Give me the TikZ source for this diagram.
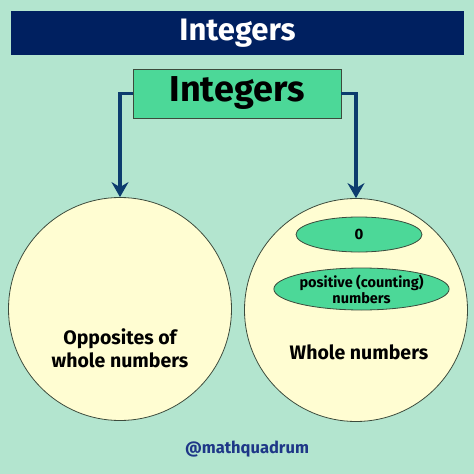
\documentclass[tikz,border=0pt]{standalone}
\usepackage{fontspec}
\setsansfont{Fira Sans}
\usetikzlibrary{positioning, shapes, arrows.meta}

\definecolor{mint}{RGB}{179,229,207}
\definecolor{navy}{RGB}{0,32,96}
\definecolor{linkblue}{RGB}{12,60,110}
\definecolor{leaf}{RGB}{76,216,152}
\definecolor{cream}{RGB}{255,253,210}
\definecolor{rim}{RGB}{60,75,60}
\definecolor{handleblue}{RGB}{30,55,135}

\begin{document}
\begin{tikzpicture}[x=1pt, y=-1pt, font=\sffamily\bfseries,
  link/.style={draw=linkblue, line width=3.8pt, -{Stealth[length=15pt, width=17pt, inset=5pt]}},
  setcircle/.style={circle, draw=rim, line width=0.8pt, fill=cream, minimum size=223pt, inner sep=0pt},
  member/.style={ellipse, draw=rim, line width=0.8pt, fill=leaf, inner sep=0pt, align=center}]

% Background and size
\useasboundingbox[fill=mint] (0, 0) rectangle (474, 474);

% Title bar
\node[fill=navy, text=white, minimum width=453pt, minimum height=44pt, font=\sffamily\bfseries\fontsize{31}{34}\selectfont] (title) at (237.5, 33) {Integers};

% Top box
\node[fill=leaf, draw=rim, line width=0.8pt, minimum width=208pt, minimum height=49pt, inner sep=0pt, font=\sffamily\bfseries\fontsize{36}{38}\selectfont] (root) at (237, 93.5) {Integers};

% The two sets
\node[setcircle] (opp) at (120, 309) {};
\node[setcircle] (whole) at (356, 310) {};

% Arrows to the sets
\draw[link] (root.west) -| (opp.north);
\draw[link] (root.east) -| (whole.north);

% Inside the whole numbers
\node[member, minimum width=126pt, minimum height=35pt, font=\sffamily\bfseries\fontsize{15}{17}\selectfont] (zero) at (359, 234.5) {0};
\node[member, minimum width=171pt, minimum height=42pt, font=\sffamily\bfseries\fontsize{14.5}{16}\selectfont] (pos) at (361.5, 289) {positive (counting)\\numbers};

% Set names
\node[align=center, font=\sffamily\bfseries\fontsize{19.5}{23}\selectfont] (opplabel) at (120, 348) {Opposites of\\whole numbers};
\node[font=\sffamily\bfseries\fontsize{19.5}{23}\selectfont] (wholelabel) at (359, 352) {Whole numbers};

% Handle
\node[text=handleblue, font=\sffamily\bfseries\fontsize{16.5}{18}\selectfont] (handle) at (247, 449) {@mathquadrum};

\end{tikzpicture}
\end{document}
